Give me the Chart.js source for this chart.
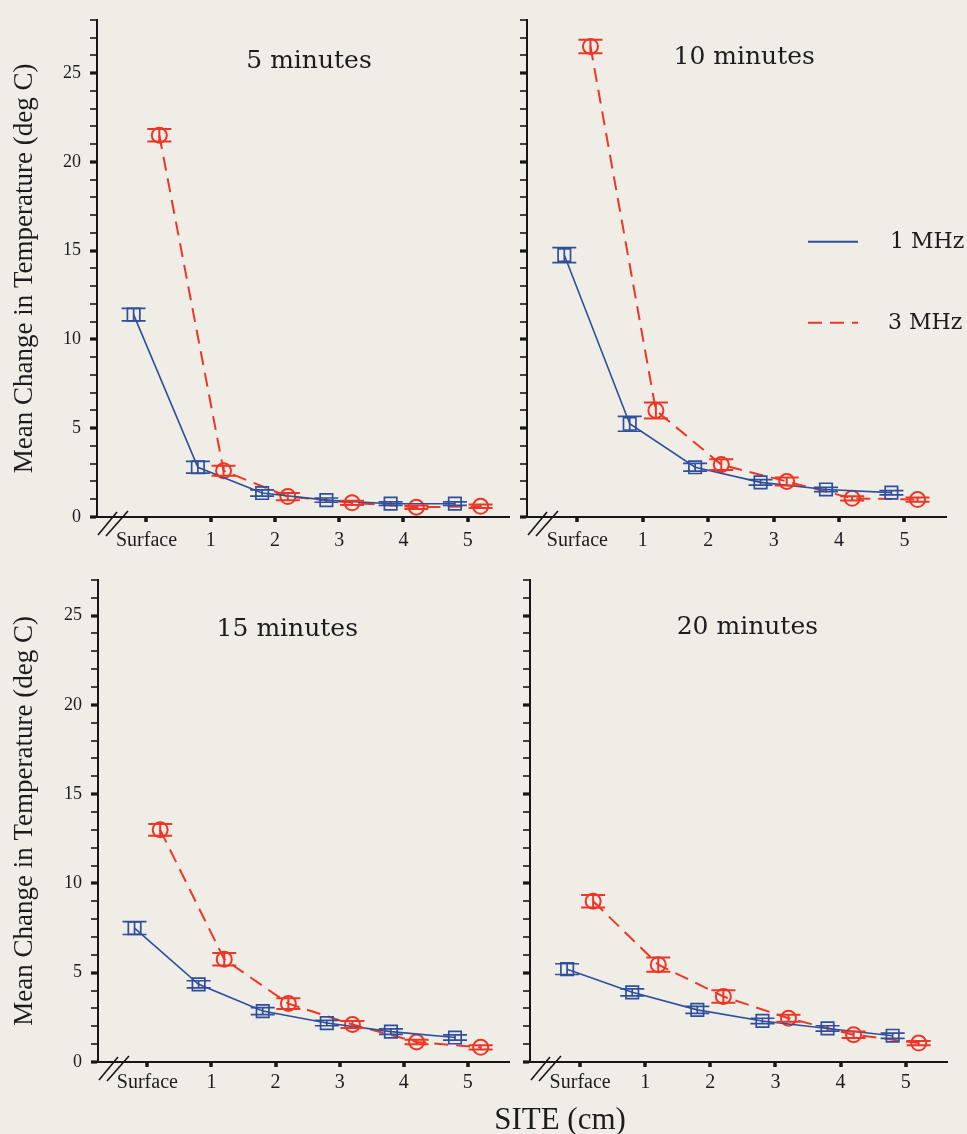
<!DOCTYPE html>
<html>
<head>
<meta charset="utf-8">
<script src="https://cdn.jsdelivr.net/npm/chart.js@4.4.1/dist/chart.umd.min.js"></script>
<style>
  html, body { margin: 0; padding: 0; background: #efede5; }
  #wrap { position: relative; width: 967px; height: 1134px; overflow: hidden; background: #efede5; }
  .panel { position: absolute; }
  #xtitle { position: absolute; left: 440px; width: 240px; top: 1100px; height: 38px; line-height: 38px;
            text-align: center; font-family: 'Liberation Serif', serif; font-size: 31px; color: #1c1c1c; }
</style>
</head>
<body>
<div id="wrap">
  <div class="panel" id="p0"><canvas id="c0"></canvas></div>
  <div class="panel" id="p1"><canvas id="c1"></canvas></div>
  <div class="panel" id="p2"><canvas id="c2"></canvas></div>
  <div class="panel" id="p3"><canvas id="c3"></canvas></div>
  <div id="xtitle"></div>
</div>
<script>
// ---------------- DATA ----------------
const sites = ['Surface', '1', '2', '3', '4', '5'];
const panelTitles = ['5 minutes', '10 minutes', '15 minutes', '20 minutes'];
const seriesNames = ['1 MHz', '3 MHz'];
const yAxisTitle = 'Mean Change in Temperature (deg C)';
const xAxisTitle = 'SITE (cm)';
const yTickStep = 1;       // minor tick every 1 deg
const yLabelEvery = 5;     // labelled ticks 0, 5, 10, 15, 20, 25

// 5 minutes
const mhz1_05 = [11.4, 2.8, 1.35, 0.95, 0.75, 0.75];
const mhz1_05_err = [0.35, 0.33, 0.18, 0.12, 0.1, 0.1];
const mhz3_05 = [21.5, 2.6, 1.15, 0.8, 0.55, 0.6];
const mhz3_05_err = [0.35, 0.28, 0.2, 0.12, 0.1, 0.1];
// 10 minutes
const mhz1_10 = [14.75, 5.25, 2.8, 1.95, 1.55, 1.37];
const mhz1_10_err = [0.42, 0.42, 0.22, 0.15, 0.12, 0.12];
const mhz3_10 = [26.5, 6.0, 2.95, 2.0, 1.05, 0.98];
const mhz3_10_err = [0.38, 0.45, 0.3, 0.22, 0.12, 0.12];
// 15 minutes
const mhz1_15 = [7.5, 4.35, 2.85, 2.18, 1.7, 1.37];
const mhz1_15_err = [0.36, 0.2, 0.2, 0.15, 0.15, 0.15];
const mhz3_15 = [13.0, 5.75, 3.27, 2.1, 1.12, 0.82];
const mhz3_15_err = [0.33, 0.35, 0.3, 0.2, 0.12, 0.12];
// 20 minutes
const mhz1_20 = [5.2, 3.9, 2.92, 2.3, 1.88, 1.47];
const mhz1_20_err = [0.3, 0.2, 0.2, 0.15, 0.15, 0.15];
const mhz3_20 = [9.0, 5.45, 3.67, 2.45, 1.53, 1.06];
const mhz3_20_err = [0.35, 0.4, 0.35, 0.2, 0.18, 0.12];

const panelSeries = [
  [[mhz1_05, mhz1_05_err], [mhz3_05, mhz3_05_err]],
  [[mhz1_10, mhz1_10_err], [mhz3_10, mhz3_10_err]],
  [[mhz1_15, mhz1_15_err], [mhz3_15, mhz3_15_err]],
  [[mhz1_20, mhz1_20_err], [mhz3_20, mhz3_20_err]]
];

// ---------------- STYLE / LAYOUT ----------------
const BLUE = '#2f4f9d', RED = '#ee3626', INK = '#161616', TEXT = '#1c1c1c';
const seriesStyle = [
  { color: BLUE, width: 1.6, dash: [], point: 'rect', radius: 8.8, pw: 1.7, offset: -0.2, errW: 1.7 },
  { color: RED, width: 2, dash: [14, 8], point: 'circle', radius: 7.5, pw: 2, offset: 0.2, errW: 2 }
];
const layout = [
  { left: 0,   top: 0,   w: 520, h: 560, yw: 97, padTop: 12, padRight: 5,  xh: 43, yMax: 28, yLabels: true,  tFx: 0.514, tDy: 42, legend: false, xPad: 7 },
  { left: 500, top: 0,   w: 467, h: 560, yw: 27, padTop: 12, padRight: 20, xh: 43, yMax: 28, yLabels: false, tFx: 0.517, tDy: 38, legend: true,  xPad: 7 },
  { left: 0,   top: 560, w: 520, h: 574, yw: 98, padTop: 12, padRight: 3,  xh: 72, yMax: 27, yLabels: true,  tFx: 0.46,  tDy: 50, legend: false, xPad: 4 },
  { left: 500, top: 560, w: 467, h: 574, yw: 30, padTop: 12, padRight: 19, xh: 72, yMax: 27, yLabels: false, tFx: 0.52,  tDy: 48, legend: false, xPad: 4 }
];

document.getElementById('xtitle').textContent = xAxisTitle;

// ---------------- PLUGINS ----------------
const errorBars = {
  id: 'errorBars',
  afterDatasetsDraw(chart) {
    const { ctx } = chart;
    const ys = chart.scales.y;
    chart.data.datasets.forEach((ds, i) => {
      const meta = chart.getDatasetMeta(i);
      ctx.save();
      ctx.strokeStyle = ds.borderColor;
      ctx.lineWidth = ds.errWidth;
      ctx.setLineDash([]);
      ds.data.forEach((pt, j) => {
        const e = ds.errors[j];
        const px = meta.data[j].x;
        const t = ys.getPixelForValue(pt.y + e);
        const b = ys.getPixelForValue(pt.y - e);
        const cap = 12;
        ctx.beginPath();
        ctx.moveTo(px, t); ctx.lineTo(px, b);
        ctx.moveTo(px - cap, t); ctx.lineTo(px + cap, t);
        ctx.moveTo(px - cap, b); ctx.lineTo(px + cap, b);
        ctx.stroke();
      });
      ctx.restore();
    });
  }
};

const breakMarks = {
  id: 'breakMarks',
  afterDraw(chart) {
    const { ctx, chartArea: { left, bottom } } = chart;
    ctx.save();
    ctx.strokeStyle = INK;
    ctx.lineWidth = 1.6;
    [[1, 18, 20, -5], [9, 19, 31, -6]].forEach(([x0, y0, x1, y1]) => {
      ctx.beginPath();
      ctx.moveTo(left + x0, bottom + y0);
      ctx.lineTo(left + x1, bottom + y1);
      ctx.stroke();
    });
    ctx.restore();
  }
};

const panelTitle = {
  id: 'panelTitle',
  afterDraw(chart, args, opts) {
    const { ctx, chartArea: { left, right, top } } = chart;
    ctx.save();
    ctx.font = '25px "DejaVu Serif"';
    ctx.fillStyle = TEXT;
    ctx.textAlign = 'center';
    ctx.textBaseline = 'middle';
    ctx.fillText(opts.text, left + opts.fx * (right - left), top + opts.dy);
    ctx.restore();
  }
};

const sideLegend = {
  id: 'sideLegend',
  afterDraw(chart, args, opts) {
    if (!opts.show) return;
    const { ctx, chartArea: { right, top } } = chart;
    ctx.save();
    const rows = [222, 303];
    chart.data.datasets.forEach((ds, i) => {
      const y = top + rows[i];
      ctx.strokeStyle = ds.borderColor;
      ctx.lineWidth = 2;
      ctx.setLineDash(ds.borderDash || []);
      ctx.beginPath();
      ctx.moveTo(right - 139, y);
      ctx.lineTo(right - 89, y);
      ctx.stroke();
      ctx.setLineDash([]);
      ctx.font = '22px "DejaVu Serif"';
      ctx.fillStyle = TEXT;
      ctx.textAlign = 'left';
      ctx.textBaseline = 'middle';
      ctx.fillText(ds.label, right - 57 - (i === 1 ? 2 : 0), y);
    });
    ctx.restore();
  }
};

// ---------------- CHARTS ----------------
Chart.defaults.font.family = '"Liberation Serif", serif';
Chart.defaults.color = TEXT;

layout.forEach((P, k) => {
  const box = document.getElementById('p' + k);
  box.style.left = P.left + 'px';
  box.style.top = P.top + 'px';
  box.style.width = P.w + 'px';
  box.style.height = P.h + 'px';

  const datasets = panelSeries[k].map(([vals, errs], s) => {
    const st = seriesStyle[s];
    return {
      label: seriesNames[s],
      data: vals.map((v, i) => ({ x: i + st.offset, y: v })),
      errors: errs,
      errWidth: st.errW,
      borderColor: st.color,
      borderWidth: st.width,
      borderDash: st.dash,
      backgroundColor: 'rgba(0,0,0,0)',
      pointStyle: st.point,
      pointRadius: st.radius,
      pointBorderWidth: st.pw,
      pointBorderColor: st.color,
      pointBackgroundColor: 'rgba(0,0,0,0)',
      pointHoverRadius: st.radius,
      tension: 0,
      fill: false,
      clip: false
    };
  });

  new Chart(document.getElementById('c' + k), {
    type: 'line',
    data: { datasets },
    plugins: [errorBars, breakMarks, panelTitle, sideLegend],
    options: {
      responsive: true,
      maintainAspectRatio: false,
      animation: false,
      devicePixelRatio: 1,
      events: [],
      layout: { padding: { top: P.padTop, right: P.padRight, left: 0, bottom: 0 } },
      plugins: {
        legend: { display: false },
        tooltip: { enabled: false },
        panelTitle: { text: panelTitles[k], fx: P.tFx, dy: P.tDy },
        sideLegend: { show: P.legend }
      },
      scales: {
        x: {
          type: 'linear',
          min: -0.77,
          max: 5.65,
          afterBuildTicks: s => { s.ticks = sites.map((_, i) => ({ value: i })); },
          afterFit: s => { s.height = P.xh; },
          border: { display: true, color: INK, width: 2 },
          grid: { drawOnChartArea: false, drawTicks: true, tickLength: 5, tickWidth: 3.5, tickColor: INK, lineWidth: 0 },
          ticks: {
            autoSkip: false, maxRotation: 0, padding: P.xPad,
            font: { family: '"Liberation Serif", serif', size: 20 }, color: TEXT,
            callback: v => sites[v] !== undefined ? sites[v] : ''
          }
        },
        y: {
          type: 'linear',
          min: 0,
          max: P.yMax,
          afterBuildTicks: s => {
            const t = [];
            for (let v = 0; v <= s.max; v += yTickStep) t.push({ value: v });
            s.ticks = t;
          },
          afterFit: s => { s.width = P.yw; },
          border: { display: true, color: INK, width: 2 },
          grid: {
            drawOnChartArea: false, drawTicks: true, tickLength: 7, tickColor: INK, lineWidth: 0,
            tickWidth: c => (c.tick && c.tick.value % yLabelEvery === 0) ? 3.2 : 1.6
          },
          ticks: {
            autoSkip: false,
            padding: 9,
            font: { family: '"Liberation Serif", serif', size: 18 }, color: TEXT,
            callback: v => (P.yLabels && v % yLabelEvery === 0) ? String(v) : ''
          },
          title: {
            display: P.yLabels,
            text: yAxisTitle,
            color: TEXT,
            font: { family: '"Liberation Serif", serif', size: 27 },
            padding: { top: 9, bottom: 0 }
          }
        }
      }
    }
  });
});
</script>
</body>
</html>
